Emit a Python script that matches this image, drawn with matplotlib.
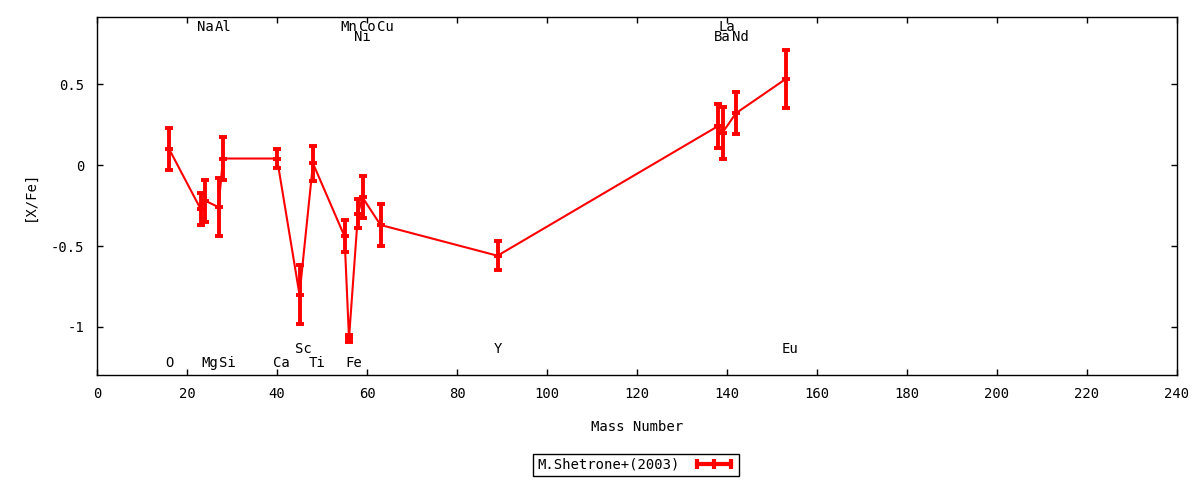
import matplotlib
matplotlib.use('Agg')
import matplotlib.pyplot as plt
import matplotlib.transforms as mtransforms
from matplotlib.lines import Line2D

# ---- data ----
elements = ['O', 'Na', 'Mg', 'Al', 'Si', 'Ca', 'Sc', 'Ti', 'Mn', 'Fe',
            'Ni', 'Co', 'Cu', 'Y', 'Ba', 'La', 'Nd', 'Eu']
mass_number = [16, 23, 24, 27, 28, 40, 45, 48, 55, 56,
               58, 59, 63, 89, 138, 139, 142, 153]
x_fe = [0.10, -0.27, -0.22, -0.26, 0.04, 0.04, -0.80, 0.01, -0.44, -1.07,
        -0.30, -0.20, -0.37, -0.56, 0.24, 0.20, 0.32, 0.53]
x_fe_err = [0.13, 0.10, 0.13, 0.18, 0.13, 0.06, 0.18, 0.11, 0.10, 0.02,
            0.09, 0.13, 0.13, 0.09, 0.135, 0.16, 0.13, 0.18]
# label rows: 't1' top row, 't2' second top row, 'b1' upper bottom row, 'b2' lowest row
label_row = ['b2', 't1', 'b2', 't1', 'b2', 'b2', 'b1', 'b2', 't1', 'b2',
             't2', 't1', 't1', 'b1', 't2', 't1', 't2', 'b1']
row_y = {'t1': 0.852, 't2': 0.790, 'b1': -1.136, 'b2': -1.222}

x_ticks = list(range(0, 241, 20))
y_ticks = [-1, -0.5, 0, 0.5]
y_tick_labels = ['-1', '-0.5', '0', '0.5']
series_label = 'M.Shetrone+(2003)'

RED = '#ff0000'
FONT = 'DejaVu Sans Mono'
FS = 10
plt.rcParams['font.family'] = FONT
plt.rcParams['font.size'] = FS

fig = plt.figure(figsize=(12, 4.8), dpi=100)
ax = fig.add_axes([97 / 1200, 1 - 375 / 480, 1080 / 1200, 358 / 480])

ax.errorbar(mass_number, x_fe, yerr=x_fe_err, color=RED, lw=1.5,
            elinewidth=2.8, capsize=3.2, capthick=2.8,
            marker='_', markersize=6.4, markeredgewidth=2.8, zorder=3)

off = mtransforms.offset_copy(ax.transData, fig=fig, x=-4, y=0, units='dots')
for el, m, r in zip(elements, mass_number, label_row):
    ax.text(m, row_y[r], el, transform=off, ha='left', va='center',
            fontsize=FS, color='black')

ax.set_xlim(0, 240)
ax.set_ylim(-1.2963, 0.9136)
ax.set_xticks(x_ticks)
ax.set_xticklabels([str(t) for t in x_ticks])
ax.set_yticks(y_ticks)
ax.set_yticklabels(y_tick_labels)
ax.tick_params(direction='in', length=4, width=1, top=True, right=True,
               labelsize=FS, pad=9)
for s in ax.spines.values():
    s.set_linewidth(1.0)

ax.set_xlabel('Mass Number', fontsize=FS, labelpad=13)
ax.set_ylabel('[X/Fe]', fontsize=FS, labelpad=10)

proxy = Line2D([0], [0], color=RED, lw=3, marker='|', markersize=7,
               markeredgewidth=3)
leg = fig.legend([proxy], [series_label], loc='center',
                 bbox_to_anchor=(636 / 1200, 1 - 465 / 480),
                 markerfirst=False, numpoints=3, handlelength=3.0,
                 fancybox=False, framealpha=1, edgecolor='black',
                 borderpad=0.3, handletextpad=1.0, borderaxespad=0,
                 fontsize=FS)
leg.get_frame().set_linewidth(1.0)

fig.savefig('out.png', dpi=100)
